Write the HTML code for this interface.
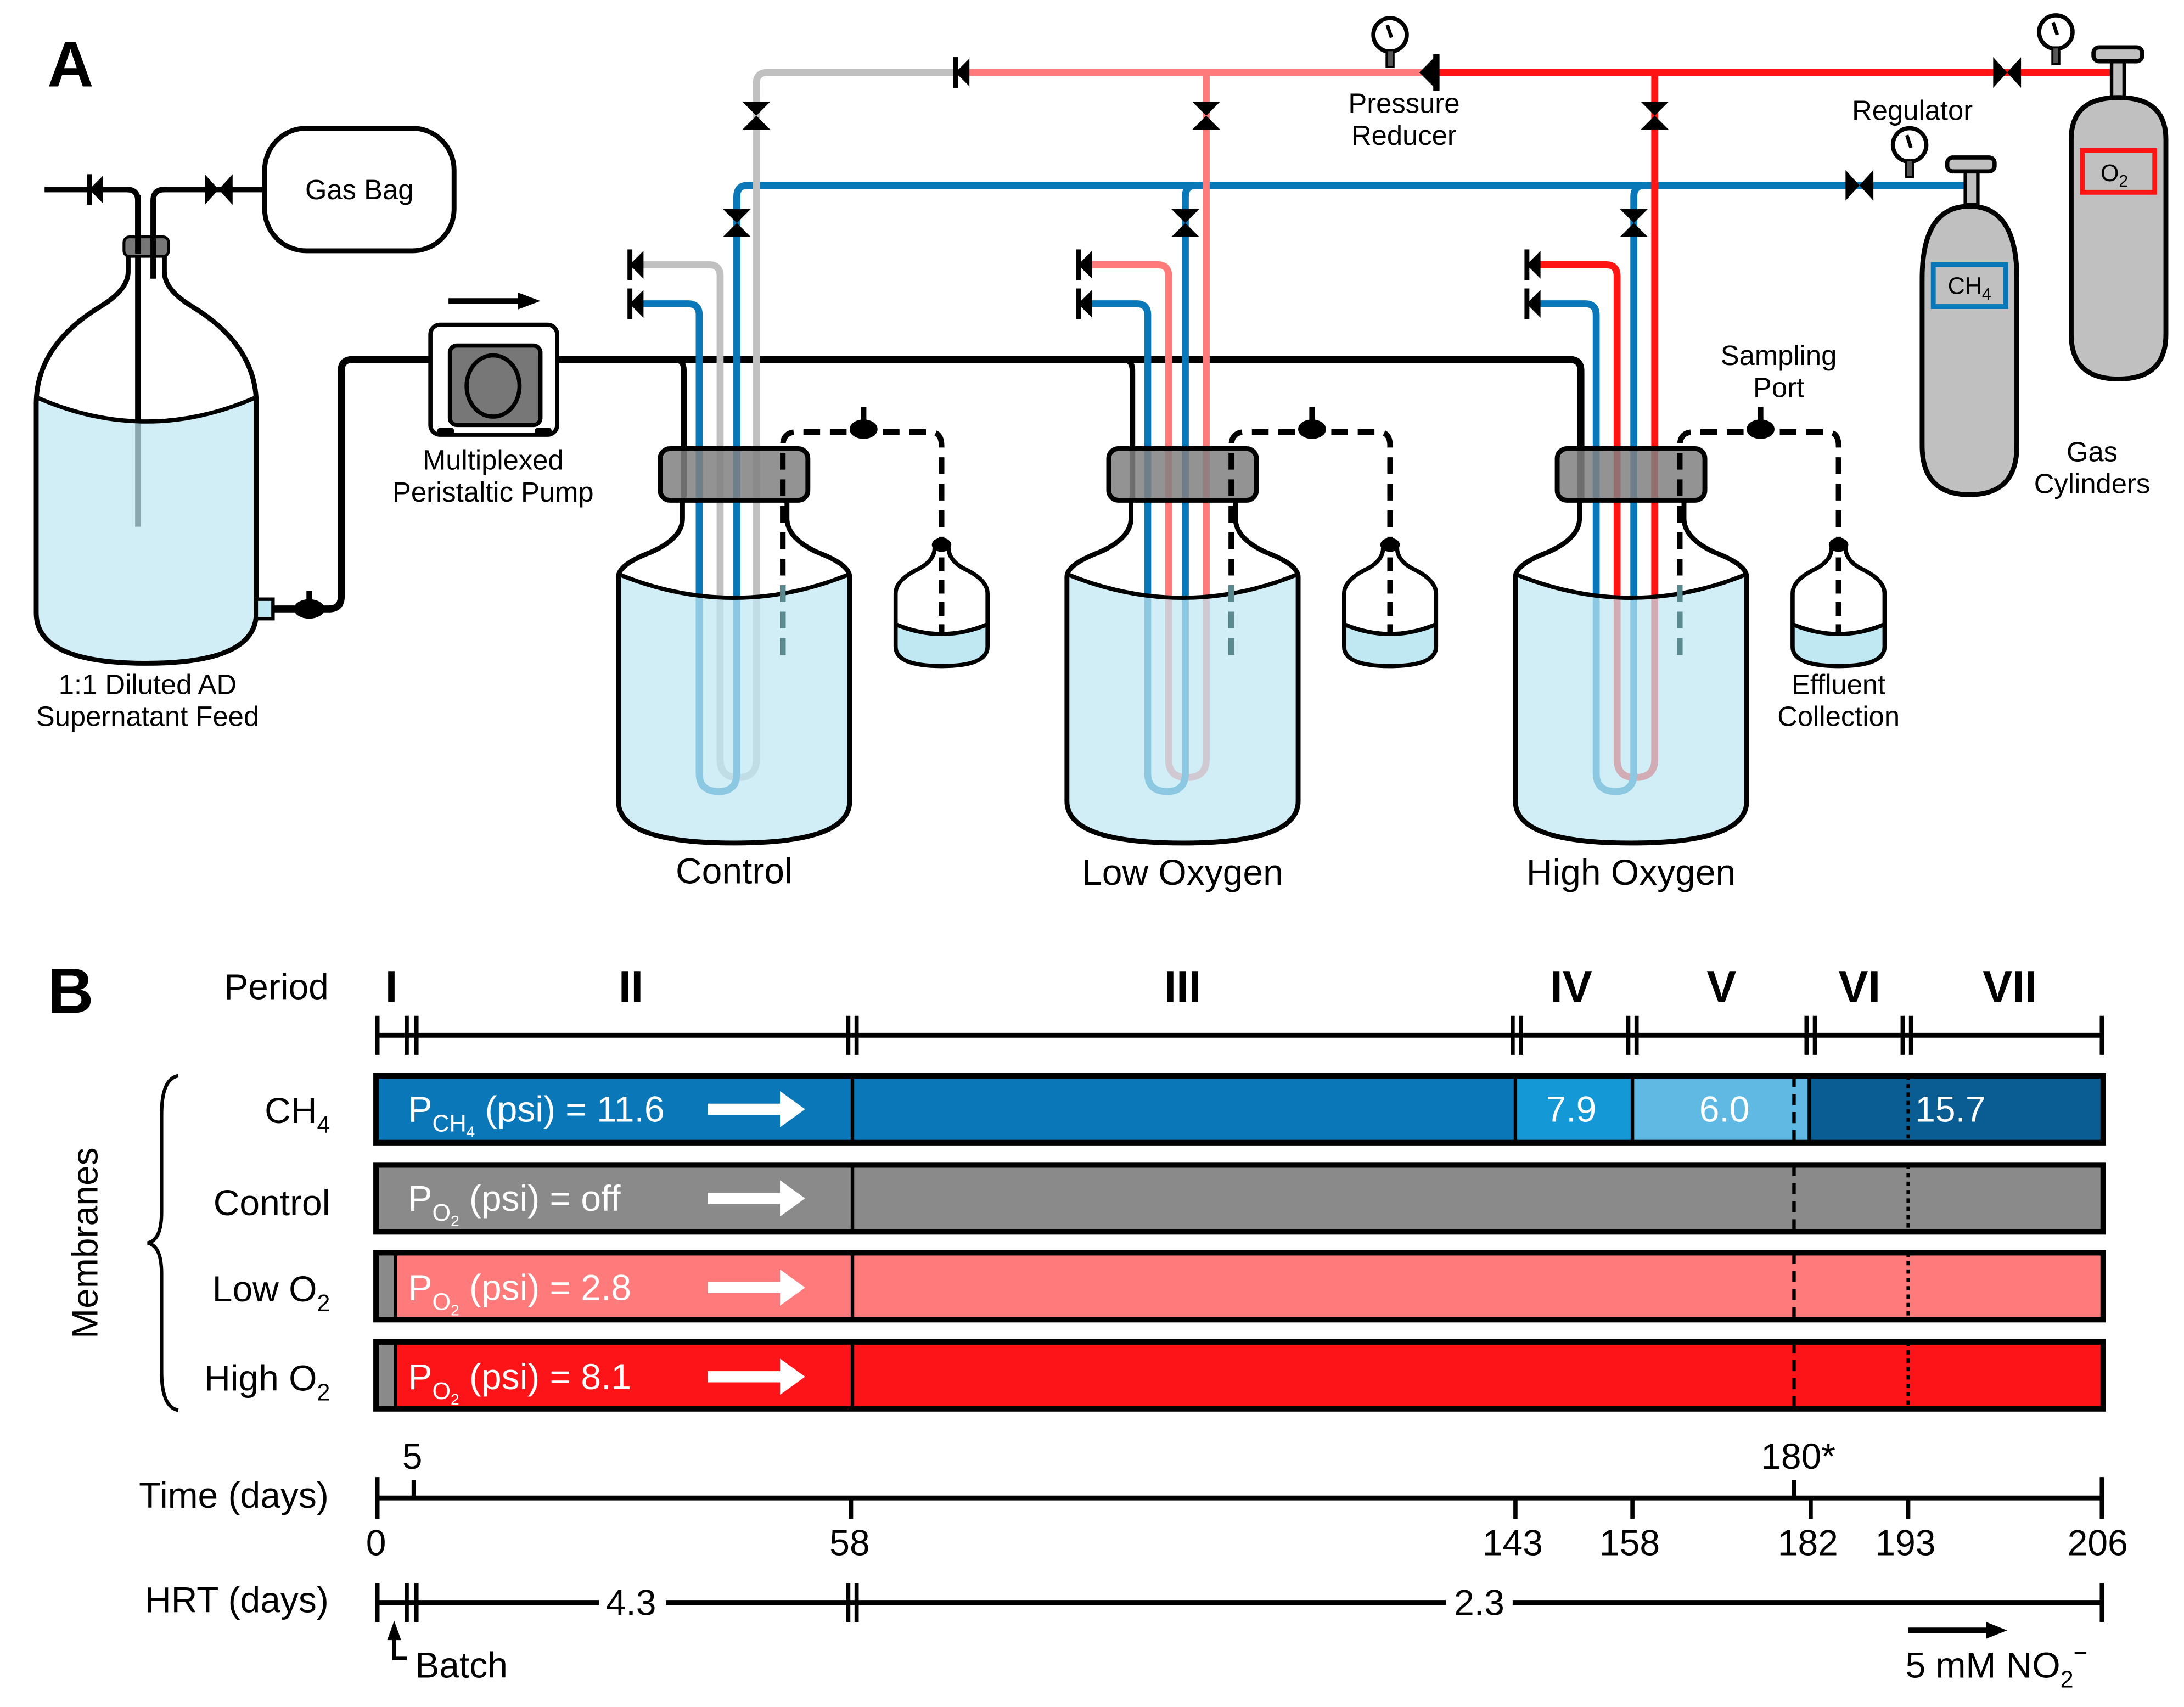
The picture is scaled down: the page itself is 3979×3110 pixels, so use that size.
<!DOCTYPE html>
<html><head><meta charset="utf-8"><style>
html,body{margin:0;padding:0;background:#fff;}
svg{display:block;}
text{font-family:"Liberation Sans",Arial,sans-serif;}
</style></head><body>
<svg width="3979" height="3110" viewBox="0 0 1568 1225" preserveAspectRatio="none" xmlns="http://www.w3.org/2000/svg">
<defs>
<g id="bowv"><polygon points="-10,-10 10,-10 0,0 -10,10 10,10 0,0" fill="#000"/></g>
<g id="bowh"><polygon points="-10,-11 -10,11 0,0 10,-11 10,11 0,0" fill="#000"/></g>
<g id="chk"><rect x="-1.5" y="-11" width="3.5" height="22" fill="#000"/><polygon points="0,0 10,-10 10,10" fill="#000"/></g>
<g id="gauge"><circle cx="0" cy="0" r="12" fill="#fff" stroke="#000" stroke-width="3"/><line x1="-2" y1="-7" x2="1" y2="2" stroke="#000" stroke-width="2.5"/><rect x="-2.5" y="11" width="5" height="12" fill="#555" stroke="#000" stroke-width="1.5"/></g>
<g id="bottle">
 <path d="M490,358 L490,372 Q490,386 468,396 Q444,405 444,414 L444,575 Q444,605 527,605 Q610,605 610,575 L610,414 Q610,405 586,396 Q565,386 565,372 L565,358 Z" fill="#fff"/>
</g>
<g id="bottleliq">
 <path d="M444,412 Q527,446 610,412 L610,575 Q610,605 527,605 Q444,605 444,575 Z" fill="#bfe8f2" fill-opacity="0.72"/>
 <path d="M444,412 Q527,446 610,412" fill="none" stroke="#000" stroke-width="3"/>
 <path d="M490,358 L490,372 Q490,386 468,396 Q444,405 444,414 L444,575 Q444,605 527,605 Q610,605 610,575 L610,414 Q610,405 586,396 Q565,386 565,372 L565,358" fill="none" stroke="#000" stroke-width="3.5"/>
 <rect x="474" y="322" width="106" height="37" rx="7" fill="#808080" fill-opacity="0.85" stroke="#000" stroke-width="3.5"/>
 <path d="M562,470 V320 Q562,310 572,310 H668 Q676,310 676,320 V455" fill="none" stroke="#000" stroke-width="4" stroke-dasharray="12,7"/>
 <line x1="562" y1="420" x2="562" y2="472" stroke="#5a8a90" stroke-width="4" stroke-dasharray="12,7"/>
 <ellipse cx="620" cy="308" rx="10" ry="7" fill="#000"/><rect x="618" y="292" width="4" height="12" fill="#000"/>
 <path d="M671,393 Q671,402 660,408 Q643,416 643,426 L643,464 Q643,478 676,478 Q709,478 709,464 L709,426 Q709,416 692,408 Q681,402 681,393 Z" fill="#fff"/>
 <path d="M643,448 Q676,462 709,448 L709,464 Q709,478 676,478 Q643,478 643,464 Z" fill="#bfe8f2"/>
 <path d="M643,448 Q676,462 709,448" fill="none" stroke="#000" stroke-width="3"/>
 <path d="M671,393 Q671,402 660,408 Q643,416 643,426 L643,464 Q643,478 676,478 Q709,478 709,464 L709,426 Q709,416 692,408 Q681,402 681,393" fill="none" stroke="#000" stroke-width="3"/>
 <line x1="676" y1="400" x2="676" y2="455" stroke="#000" stroke-width="4" stroke-dasharray="10,6"/>
 <ellipse cx="676" cy="391" rx="7" ry="5" fill="#000"/>
</g>
</defs>
<rect width="1568" height="1225" fill="#fff"/>

<text x="34" y="62" font-size="46" font-weight="bold">A</text>

<path d="M92,182 L92,195 Q92,208 72,220 Q26,248 26,290 L26,440 Q26,476 105,476 Q184,476 184,440 L184,290 Q184,248 138,220 Q118,208 118,195 L118,182 Z" fill="#fff"/>
<line x1="99" y1="140" x2="99" y2="378" stroke="#000" stroke-width="4"/>
<path d="M26,285 Q105,320 184,285 L184,440 Q184,476 105,476 Q26,476 26,440 Z" fill="#bfe8f2" fill-opacity="0.72"/>
<path d="M26,285 Q105,320 184,285" fill="none" stroke="#000" stroke-width="3"/>
<path d="M92,182 L92,195 Q92,208 72,220 Q26,248 26,290 L26,440 Q26,476 105,476 Q184,476 184,440 L184,290 Q184,248 138,220 Q118,208 118,195 L118,182" fill="none" stroke="#000" stroke-width="3.5"/>
<rect x="184" y="430" width="12" height="14" fill="#bfe8f2" stroke="#000" stroke-width="2.5"/>
<rect x="89" y="170" width="32" height="14" rx="4" fill="#777" stroke="#000" stroke-width="2"/>
<path d="M32,136 H91 Q99,136 99,144 V182" fill="none" stroke="#000" stroke-width="4"/>
<path d="M110,200 V144 Q110,136 118,136 H190" fill="none" stroke="#000" stroke-width="4"/>
<use href="#chk" x="64" y="136"/>
<use href="#bowh" x="157" y="136"/>
<rect x="190" y="92" width="136" height="88" rx="30" fill="#fff" stroke="#000" stroke-width="3.5"/>
<text x="258" y="143" font-size="20" text-anchor="middle">Gas Bag</text>
<text x="106" y="498" font-size="20" text-anchor="middle">1:1 Diluted AD</text>
<text x="106" y="521" font-size="20" text-anchor="middle">Supernatant Feed</text>

<path d="M196,437 H236 Q245,437 245,428 V266 Q245,258 253,258 H1127 Q1135,258 1135,266 V385" fill="none" stroke="#000" stroke-width="5"/>
<ellipse cx="222" cy="437" rx="11" ry="7" fill="#000"/><rect x="220" y="424" width="4" height="10" fill="#000"/>
<path d="M484,258 Q491,258 491,266 V385" fill="none" stroke="#000" stroke-width="4"/>
<path d="M806,258 Q813,258 813,266 V385" fill="none" stroke="#000" stroke-width="4"/>

<rect x="309" y="233" width="91" height="79" rx="7" fill="#fff" stroke="#000" stroke-width="3"/>
<rect x="323" y="248" width="65" height="57" rx="5" fill="#777" stroke="#000" stroke-width="3"/>
<ellipse cx="354" cy="277" rx="19" ry="22" fill="#777" stroke="#000" stroke-width="3"/>
<rect x="314" y="307" width="12" height="6" rx="2" fill="#000"/><rect x="384" y="307" width="12" height="6" rx="2" fill="#000"/>
<line x1="322" y1="216" x2="375" y2="216" stroke="#000" stroke-width="4"/>
<polygon points="372,210 388,216 372,222" fill="#000"/>
<text x="354" y="337" font-size="20" text-anchor="middle">Multiplexed</text>
<text x="354" y="360" font-size="20" text-anchor="middle">Peristaltic Pump</text>

<use href="#bottle"/><use href="#bottle" x="322"/><use href="#bottle" x="644"/>

<path d="M543,70 V60 Q543,52 551,52 H688" fill="none" stroke="#c0c0c0" stroke-width="5"/>
<line x1="688" y1="52" x2="1025" y2="52" stroke="#ff7a7a" stroke-width="5"/>
<line x1="1025" y1="52" x2="1522" y2="52" stroke="#ff1414" stroke-width="5"/>
<path d="M529,150 V141 Q529,133 537,133 H1415" fill="none" stroke="#0a78b8" stroke-width="5"/>

<path d="M543,60 V545 Q543,558 530,558 Q517,558 517,545 V198 Q517,190 509,190 H458" fill="none" stroke="#c0c0c0" stroke-width="5"/>
<path d="M529,141 V555 Q529,568 516,568 Q502,568 502,555 V226 Q502,218 494,218 H458" fill="none" stroke="#0a78b8" stroke-width="5"/>
<path d="M866,52 V545 Q866,558 852,558 Q839,558 839,545 V198 Q839,190 831,190 H780" fill="none" stroke="#ff7a7a" stroke-width="5"/>
<path d="M859,133 Q851,133 851,141 V555 Q851,568 838,568 Q824,568 824,555 V226 Q824,218 816,218 H780" fill="none" stroke="#0a78b8" stroke-width="5"/>
<path d="M1188,52 V545 Q1188,558 1174,558 Q1161,558 1161,545 V198 Q1161,190 1153,190 H1102" fill="none" stroke="#ff1414" stroke-width="5"/>
<path d="M1181,133 Q1173,133 1173,141 V555 Q1173,568 1160,568 Q1146,568 1146,555 V226 Q1146,218 1138,218 H1102" fill="none" stroke="#0a78b8" stroke-width="5"/>

<use href="#bottleliq"/><use href="#bottleliq" x="322"/><use href="#bottleliq" x="644"/>

<use href="#bowv" x="543" y="83"/><use href="#bowv" x="529" y="160"/>
<use href="#bowv" x="866" y="83"/><use href="#bowv" x="851" y="160"/>
<use href="#bowv" x="1188" y="83"/><use href="#bowv" x="1173" y="160"/>
<use href="#chk" x="452" y="190"/><use href="#chk" x="452" y="218"/>
<use href="#chk" x="774" y="190"/><use href="#chk" x="774" y="218"/>
<use href="#chk" x="1096" y="190"/><use href="#chk" x="1096" y="218"/>
<use href="#chk" x="686" y="52"/>
<polygon points="1019,52 1031,40 1031,64" fill="#000"/><rect x="1029" y="39" width="4.5" height="26" fill="#000"/>
<use href="#bowh" x="1441" y="52"/>
<use href="#bowh" x="1335" y="133"/>
<use href="#gauge" x="998" y="25"/>
<use href="#gauge" x="1476" y="23"/>
<use href="#gauge" x="1371" y="104"/>

<rect x="1411" y="122" width="9" height="25" fill="#c0c0c0" stroke="#000" stroke-width="2.5"/>
<rect x="1398" y="113" width="34" height="10" rx="4" fill="#c0c0c0" stroke="#000" stroke-width="3"/>
<path d="M1380,320 V200 Q1380,148 1414,148 Q1448,148 1448,200 V320 Q1448,355 1414,355 Q1380,355 1380,320 Z" fill="#c0c0c0" stroke="#000" stroke-width="3.5"/>
<rect x="1388" y="190" width="52" height="30" fill="none" stroke="#0a78b8" stroke-width="3.5"/>
<text x="1414" y="211" font-size="17" text-anchor="middle">CH<tspan font-size="12" dy="4">4</tspan></text>
<rect x="1516" y="42" width="9" height="28" fill="#c0c0c0" stroke="#000" stroke-width="2.5"/>
<rect x="1503" y="34" width="35" height="10" rx="4" fill="#c0c0c0" stroke="#000" stroke-width="3"/>
<path d="M1487,240 V100 Q1487,70 1521,70 Q1555,70 1555,100 V240 Q1555,272 1521,272 Q1487,272 1487,240 Z" fill="#c0c0c0" stroke="#000" stroke-width="3.5"/>
<rect x="1495" y="108" width="52" height="30" fill="none" stroke="#ff1414" stroke-width="3.5"/>
<text x="1518" y="130" font-size="17" text-anchor="middle">O<tspan font-size="12" dy="4">2</tspan></text>

<g font-size="20" text-anchor="middle">
<text x="1008" y="81">Pressure</text><text x="1008" y="104">Reducer</text>
<text x="1373" y="86">Regulator</text>
<text x="1277" y="262">Sampling</text><text x="1277" y="285">Port</text>
<text x="1502" y="331">Gas</text><text x="1502" y="354">Cylinders</text>
<text x="1320" y="498">Effluent</text><text x="1320" y="521">Collection</text>
</g>
<g font-size="26" text-anchor="middle">
<text x="527" y="634">Control</text><text x="849" y="635">Low Oxygen</text><text x="1171" y="635">High Oxygen</text>
</g>

<text x="34" y="727" font-size="46" font-weight="bold">B</text>
<text x="236" y="717" font-size="26" text-anchor="end">Period</text>
<g font-size="32" font-weight="bold" text-anchor="middle">
<text x="281" y="719">I</text><text x="453" y="719">II</text><text x="849" y="719">III</text><text x="1128" y="719">IV</text><text x="1236" y="719">V</text><text x="1335" y="719">VI</text><text x="1443" y="719">VII</text>
</g>
<g stroke="#000" stroke-width="3">
<line x1="270" y1="743" x2="1510" y2="743" stroke-width="3.5"/>
<path d="M271,729V757 M292,729V757 M299,729V757 M609,729V757 M615,729V757 M1086,729V757 M1092,729V757 M1169,729V757 M1175,729V757 M1297,729V757 M1303,729V757 M1366,729V757 M1372,729V757 M1509,729V757"/>
</g>

<rect x="270" y="772" width="342" height="48" fill="#0a78b8"/>
<rect x="612" y="772" width="476" height="48" fill="#0a78b8"/>
<rect x="1088" y="772" width="84" height="48" fill="#1499d6"/>
<rect x="1172" y="772" width="126" height="48" fill="#5fb9e2"/>
<rect x="1298" y="772" width="212" height="48" fill="#0a5d92"/>
<rect x="270" y="836" width="1240" height="48" fill="#8a8a8a"/>
<rect x="270" y="899" width="1240" height="48" fill="#ff7b7b"/>
<rect x="270" y="899" width="14" height="48" fill="#8a8a8a"/>
<rect x="270" y="963" width="1240" height="48" fill="#fd1418"/>
<rect x="270" y="963" width="14" height="48" fill="#8a8a8a"/>
<g stroke="#000" stroke-width="2.5">
<line x1="612" y1="772" x2="612" y2="820"/><line x1="1088" y1="772" x2="1088" y2="820"/><line x1="1172" y1="772" x2="1172" y2="820"/><line x1="1299" y1="772" x2="1299" y2="820"/>
<line x1="612" y1="836" x2="612" y2="884"/><line x1="612" y1="899" x2="612" y2="947"/><line x1="612" y1="963" x2="612" y2="1011"/>
<line x1="284" y1="899" x2="284" y2="947"/><line x1="284" y1="963" x2="284" y2="1011"/>
<path d="M1288,772V820 M1288,836V884 M1288,899V947 M1288,963V1011" stroke-dasharray="8,5"/>
<path d="M1370,772V820 M1370,836V884 M1370,899V947 M1370,963V1011" stroke-dasharray="3,3"/>
</g>
<g fill="none" stroke="#000" stroke-width="4">
<rect x="270" y="772" width="1240" height="48"/><rect x="270" y="836" width="1240" height="48"/><rect x="270" y="899" width="1240" height="48"/><rect x="270" y="963" width="1240" height="48"/>
</g>
<g fill="#fff" font-size="26">
<text x="293" y="805">P<tspan font-size="17" dy="7">CH</tspan><tspan font-size="11" dy="4">4</tspan><tspan dy="-11"> (psi) = 11.6</tspan></text>
<text x="293" y="869">P<tspan font-size="17" dy="7">O</tspan><tspan font-size="11" dy="4">2</tspan><tspan dy="-11"> (psi) = off</tspan></text>
<text x="293" y="933">P<tspan font-size="17" dy="7">O</tspan><tspan font-size="11" dy="4">2</tspan><tspan dy="-11"> (psi) = 2.8</tspan></text>
<text x="293" y="997">P<tspan font-size="17" dy="7">O</tspan><tspan font-size="11" dy="4">2</tspan><tspan dy="-11"> (psi) = 8.1</tspan></text>
<text x="1128" y="805" text-anchor="middle">7.9</text>
<text x="1238" y="805" text-anchor="middle">6.0</text>
<text x="1375" y="805">15.7</text>
</g>
<g fill="#fff">
<path d="M508,792 H560 V783 L578,796 L560,809 V800 H508 Z"/>
<path d="M508,856 H560 V847 L578,860 L560,873 V864 H508 Z"/>
<path d="M508,920 H560 V911 L578,924 L560,937 V928 H508 Z"/>
<path d="M508,984 H560 V975 L578,988 L560,1001 V992 H508 Z"/>
</g>
<g font-size="26" text-anchor="end">
<text x="237" y="806">CH<tspan font-size="17" dy="7">4</tspan></text>
<text x="237" y="872">Control</text>
<text x="237" y="934">Low O<tspan font-size="17" dy="7">2</tspan></text>
<text x="237" y="998">High O<tspan font-size="17" dy="7">2</tspan></text>
</g>
<path d="M128,772 Q116,774 116,800 L116,870 Q116,890 106,892 Q116,894 116,914 L116,984 Q116,1010 128,1012" fill="none" stroke="#000" stroke-width="2.5"/>
<text transform="translate(70,892) rotate(-90)" font-size="26" text-anchor="middle">Membranes</text>

<text x="236" y="1082" font-size="26" text-anchor="end">Time (days)</text>
<g stroke="#000" stroke-width="3">
<line x1="270" y1="1075" x2="1509" y2="1075" stroke-width="3.5"/>
<path d="M271,1060V1090 M1509,1060V1090 M297,1062V1075 M1288,1062V1075 M611,1075V1090 M1088,1075V1090 M1172,1075V1090 M1300,1075V1090 M1370,1075V1090"/>
</g>
<g font-size="26" text-anchor="middle">
<text x="296" y="1054">5</text><text x="1291" y="1054">180*</text>
<text x="270" y="1116">0</text><text x="610" y="1116">58</text><text x="1086" y="1116">143</text><text x="1170" y="1116">158</text><text x="1298" y="1116">182</text><text x="1368" y="1116">193</text><text x="1506" y="1116">206</text>
</g>
<text x="236" y="1157" font-size="26" text-anchor="end">HRT (days)</text>
<g stroke="#000" stroke-width="3">
<path d="M270,1150 H430 M478,1150 H1038 M1086,1150 H1509" stroke-width="3.5"/>
<path d="M271,1136V1164 M292,1136V1164 M299,1136V1164 M609,1136V1164 M615,1136V1164 M1509,1136V1164"/>
</g>
<text x="453" y="1159" font-size="26" text-anchor="middle">4.3</text>
<text x="1062" y="1159" font-size="26" text-anchor="middle">2.3</text>
<path d="M283,1176 V1190 H292" fill="none" stroke="#000" stroke-width="3"/>
<polygon points="278,1177 283,1163 288,1177" fill="#000"/>
<text x="298" y="1204" font-size="26">Batch</text>
<line x1="1370" y1="1170" x2="1428" y2="1170" stroke="#000" stroke-width="4"/>
<polygon points="1426,1164 1441,1170 1426,1176" fill="#000"/>
<text x="1368" y="1204" font-size="26">5 mM NO<tspan font-size="17" dy="7">2</tspan><tspan font-size="17" dy="-19">−</tspan></text>
</svg>
</body></html>
